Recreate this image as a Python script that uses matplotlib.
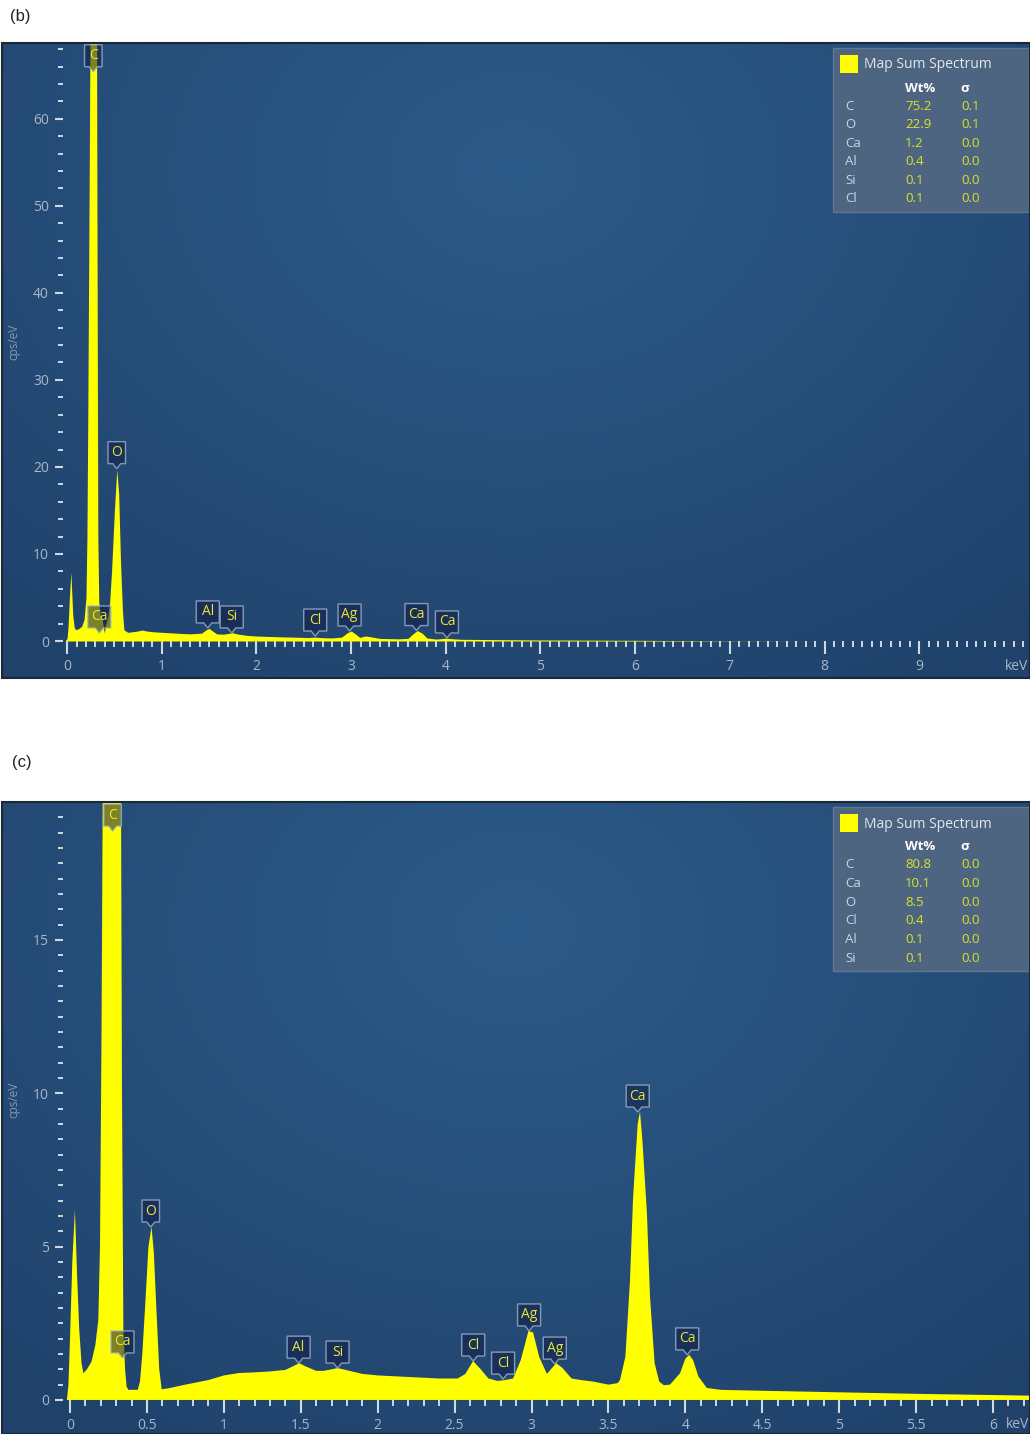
import numpy as np
import matplotlib.pyplot as plt
from matplotlib.patches import Polygon, Rectangle
from matplotlib.transforms import ScaledTranslation

plt.rcParams['font.family'] = ['Open Sans', 'DejaVu Sans']

DPI = 100

# ---- panel (b) spectrum (keV, cps/eV) ----
energy_b = [-0.02, 0.0, 0.01, 0.025, 0.04, 0.05, 0.06, 0.075, 0.09, 0.12, 0.155,
            0.18, 0.20, 0.21, 0.218, 0.235, 0.245, 0.28, 0.31, 0.318, 0.325, 0.335,
            0.35, 0.37, 0.385, 0.395, 0.405, 0.43, 0.45, 0.47, 0.50, 0.525, 0.545,
            0.565, 0.585, 0.60, 0.64, 0.68, 0.75, 0.79, 0.84, 0.92, 1.0, 1.15, 1.3,
            1.42, 1.47, 1.50, 1.53, 1.58, 1.65, 1.72, 1.75, 1.8, 1.9, 2.0, 2.2, 2.4,
            2.55, 2.62, 2.7, 2.8, 2.9, 2.96, 3.0, 3.04, 3.09, 3.15, 3.2, 3.3, 3.5,
            3.6, 3.65, 3.7, 3.75, 3.8, 3.9, 4.0, 4.05, 4.15, 4.5, 5.0, 5.5, 6.0,
            6.5, 7.0, 8.0, 10.2]
cps_b = [0.0, 0.3, 1.5, 5.0, 7.9, 5.5, 3.0, 1.6, 1.3, 1.4, 1.7,
         2.5, 5.0, 12.0, 24.0, 55.0, 75.0, 90.0, 75.0, 40.0, 12.0, 4.5,
         3.0, 2.6, 1.5, 0.9, 1.8, 2.8, 4.5, 8.0, 15.0, 19.7, 17.0,
         9.0, 3.5, 1.3, 1.0, 1.05, 1.15, 1.26, 1.15, 1.05, 1.0, 0.9, 0.82,
         0.9, 1.3, 1.45, 1.2, 0.82, 0.78, 0.9, 0.95, 0.8, 0.65, 0.57, 0.5, 0.44,
         0.4, 0.45, 0.38, 0.35, 0.45, 0.95, 1.15, 0.85, 0.42, 0.58, 0.5, 0.3, 0.25,
         0.3, 0.8, 1.2, 0.9, 0.35, 0.22, 0.33, 0.28, 0.2, 0.16, 0.12, 0.1, 0.08,
         0.05, 0.02, 0.0, 0.0]

# ---- panel (c) spectrum ----
energy_c = [-0.02, -0.01, 0.0, 0.015, 0.032, 0.045, 0.06, 0.075, 0.087, 0.11, 0.14,
            0.165, 0.184, 0.195, 0.205, 0.215, 0.24, 0.275, 0.31, 0.33, 0.338,
            0.347, 0.358, 0.368, 0.38, 0.44, 0.455, 0.47, 0.49, 0.51, 0.53, 0.545,
            0.563, 0.58, 0.596, 0.64, 0.75, 0.9, 1.0, 1.1, 1.2, 1.3, 1.4, 1.45,
            1.49, 1.53, 1.6, 1.65, 1.7, 1.74, 1.8, 1.9, 2.0, 2.2, 2.4, 2.52, 2.57,
            2.62, 2.67, 2.72, 2.78, 2.83, 2.88, 2.93, 2.98, 3.01, 3.05, 3.1, 3.16,
            3.2, 3.26, 3.32, 3.4, 3.5, 3.56, 3.575, 3.61, 3.64, 3.66, 3.69, 3.705,
            3.72, 3.75, 3.77, 3.80, 3.83, 3.86, 3.9, 3.965, 4.0, 4.025, 4.05, 4.085,
            4.14, 4.23, 4.5, 5.0, 5.5, 6.0, 6.25]
cps_c = [0.0, 0.5, 2.0, 4.5, 6.2, 4.2, 2.3, 1.2, 0.87, 1.0, 1.25,
         1.8, 2.6, 5.0, 12.0, 22.0, 40.0, 55.0, 40.0, 22.0, 10.0,
         2.3, 1.0, 0.43, 0.33, 0.33, 0.6, 1.5, 3.2, 5.0, 5.65, 4.8,
         2.8, 1.0, 0.35, 0.38, 0.5, 0.65, 0.8, 0.88, 0.9, 0.93, 0.98, 1.1,
         1.2, 1.1, 0.95, 0.95, 1.0, 1.04, 0.97, 0.85, 0.8, 0.75, 0.7, 0.7, 0.85,
         1.27, 1.0, 0.7, 0.62, 0.65, 0.7, 1.3, 2.25, 2.2, 1.4, 0.85, 1.2,
         1.05, 0.7, 0.65, 0.6, 0.5, 0.55, 0.65, 1.41, 3.9, 6.6, 9.0, 9.4,
         8.5, 6.1, 3.37, 1.2, 0.6, 0.48, 0.5, 0.87, 1.35, 1.47, 1.3, 0.76,
         0.39, 0.33, 0.3, 0.25, 0.2, 0.16, 0.14]

# ---- peak labels: element, line energy (keV), marker height (cps/eV) ----
peaks_b = ['C', 'Ca', 'O', 'Al', 'Si', 'Cl', 'Ag', 'Ca', 'Ca']
peak_e_b = [0.277, 0.341, 0.525, 1.486, 1.739, 2.621, 2.984, 3.690, 4.012]
peak_y_b = [65.4, 0.92, 19.8, 1.5, 0.92, 0.57, 1.15, 1.2, 0.35]

peaks_c = ['C', 'Ca', 'O', 'Al', 'Si', 'Cl', 'Cl', 'Ag', 'Ag', 'Ca', 'Ca']
peak_e_c = [0.277, 0.341, 0.525, 1.486, 1.739, 2.621, 2.815, 2.984, 3.151, 3.690, 4.012]
peak_y_c = [18.55, 1.37, 5.64, 1.2, 1.04, 1.27, 0.68, 2.25, 1.17, 9.39, 1.47]

# ---- quantification tables ----
elements_b = ['C', 'O', 'Ca', 'Al', 'Si', 'Cl']
wt_b = ['75.2', '22.9', '1.2', '0.4', '0.1', '0.1']
sigma_b = ['0.1', '0.1', '0.0', '0.0', '0.0', '0.0']

elements_c = ['C', 'Ca', 'O', 'Cl', 'Al', 'Si']
wt_c = ['80.8', '10.1', '8.5', '0.4', '0.1', '0.1']
sigma_c = ['0.0', '0.0', '0.0', '0.0', '0.0', '0.0']

BG_CENTER = np.array([0x2d, 0x5b, 0x89]) / 255
BG_EDGE = np.array([0x1f, 0x41, 0x6a]) / 255
SPEC_COL = '#ffff00'
TICK_COL = '#d0d8e2'
TICKLABEL_COL = '#a9b7c8'
LABEL_COL = '#e6e838'
VALUE_COL = '#dae22a'

fig = plt.figure(figsize=(10.3, 14.34), dpi=DPI)


def corner(ax):
    # offsets in inches measured from the top-left corner of the axes
    return fig.dpi_scale_trans + ScaledTranslation(0, 1, ax.transAxes)


def add_background(ax):
    yy, xx = np.mgrid[0:1:300j, 0:1:300j]
    r = np.sqrt(((xx - 0.5) / 0.8) ** 2 + ((yy - 0.8) / 1.0) ** 2)
    r = np.clip(r, 0, 1)[..., None]
    img = BG_CENTER * (1 - r) + BG_EDGE * r
    ax.imshow(img, extent=(0, 1, 0, 1), transform=ax.transAxes, origin='lower',
              aspect='auto', zorder=0, interpolation='bilinear')


def callout(ax, name, e, y):
    w = 12 + 5.5 * len(name)
    h, gap, nw = 22, 5, 4
    verts = np.array([(0, 0), (nw, gap), (w / 2, gap), (w / 2, gap + h),
                      (-w / 2, gap + h), (-w / 2, gap), (-nw, gap)]) / DPI
    trans = fig.dpi_scale_trans + ScaledTranslation(e, y, ax.transData)
    ax.add_patch(Polygon(verts, closed=True, transform=trans, zorder=4,
                         fc=(0.07, 0.11, 0.28, 0.55), ec=(0.62, 0.70, 0.80, 0.8), lw=1))
    ax.text(0, (gap + h / 2) / DPI, name, transform=trans, ha='center', va='center',
            color=LABEL_COL, fontsize=10, zorder=5, clip_on=True)


def add_table(ax, elements, wt, sigma):
    tr = corner(ax)
    ax.add_patch(Rectangle((831 / DPI, -169 / DPI), 196 / DPI, 164 / DPI, transform=tr,
                           fc='#4e6581', ec='#5f7794', lw=1, zorder=6))
    ax.add_patch(Rectangle((838 / DPI, -30 / DPI), 18 / DPI, 18 / DPI, transform=tr,
                           fc=SPEC_COL, ec='none', zorder=7))
    ax.text(862 / DPI, -22 / DPI, 'Map Sum Spectrum', transform=tr, ha='left', va='center',
            color='#e2e8ef', fontsize=10, zorder=7)
    ax.text(918 / DPI, -45 / DPI, 'Wt%', transform=tr, ha='center', va='center',
            color='#ffffff', fontsize=9.5, fontweight='bold', zorder=7)
    ax.text(963 / DPI, -45 / DPI, 'σ', transform=tr, ha='center', va='center',
            color='#ffffff', fontsize=9.5, fontweight='bold', zorder=7)
    for i, (el, w, s) in enumerate(zip(elements, wt, sigma)):
        yy = -(63 + 18.6 * i) / DPI
        ax.text(843 / DPI, yy, el, transform=tr, ha='left', va='center',
                color='#ccd5e0', fontsize=9.5, zorder=7)
        ax.text(903 / DPI, yy, w, transform=tr, ha='left', va='center',
                color=VALUE_COL, fontsize=9.5, zorder=7)
        ax.text(959 / DPI, yy, s, transform=tr, ha='left', va='center',
                color=VALUE_COL, fontsize=9.5, zorder=7)


def style_axes(ax, xlim, ylim, yaxis_x, xmaj, xmin, ymaj, ymin, kev_x):
    add_background(ax)
    ax.set_xlim(xlim)
    ax.set_ylim(ylim)
    ax.spines['bottom'].set_position(('data', 0))
    ax.spines['left'].set_position(('data', yaxis_x))
    for s in ax.spines.values():
        s.set_color('none')
    ax.add_patch(Rectangle((0, 0), 1, 1, transform=ax.transAxes, fill=False,
                           ec='#1b2836', lw=1.5, zorder=10, clip_on=False))
    ax.set_xticks(xmaj)
    ax.set_xticks(xmin, minor=True)
    ax.set_yticks(ymaj)
    ax.set_yticks(ymin, minor=True)
    ax.xaxis.set_major_formatter(lambda v, p: f'{v:g}')
    ax.yaxis.set_major_formatter(lambda v, p: f'{v:g}')
    ax.tick_params(axis='x', which='major', direction='out', length=9, width=1.5,
                   color=TICK_COL, labelcolor=TICKLABEL_COL, labelsize=10, pad=4)
    ax.tick_params(axis='x', which='minor', direction='out', length=4.5, width=1.4,
                   color=TICK_COL)
    ax.tick_params(axis='y', which='major', direction='out', length=6, width=1.5,
                   color=TICK_COL, labelcolor=TICKLABEL_COL, labelsize=10, pad=4)
    ax.tick_params(axis='y', which='minor', direction='out', length=3.5, width=1.4,
                   color=TICK_COL)
    ax.annotate('keV', xy=(kev_x, 0), xytext=(0, -25), textcoords='offset pixels',
                ha='center', va='center', color=TICKLABEL_COL, fontsize=10)
    ax.text(12 / 1028, 0.529, 'cps/eV', transform=ax.transAxes, rotation=90,
            ha='center', va='center', color='#8599b0', fontsize=8.5)


# ---- panel (b) ----
ax_b = fig.add_axes([2 / 1030, (1434 - 678) / 1434, 1028 / 1030, 635 / 1434])
ax_b.fill_between(energy_b, 0, cps_b, color=SPEC_COL, lw=0, zorder=2)
style_axes(ax_b, (-0.687, 10.17), (-4.25, 68.7), -0.045,
           np.arange(0, 10), np.arange(0, 10.2, 0.1), np.arange(0, 61, 10),
           np.arange(0, 69, 2), 10.03)
for name, e, y in zip(peaks_b, peak_e_b, peak_y_b):
    callout(ax_b, name, e, y)
add_table(ax_b, elements_b, wt_b, sigma_b)

# ---- panel (c) ----
ax_c = fig.add_axes([2 / 1030, 0, 1028 / 1030, 632 / 1434])
ax_c.fill_between(energy_c, 0, cps_c, color=SPEC_COL, lw=0, zorder=2)
style_axes(ax_c, (-0.442, 6.24), (-1.11, 19.5), -0.045,
           np.arange(0, 6.01, 0.5), np.arange(0, 6.25, 0.1), np.arange(0, 16, 5),
           np.arange(0, 19.6, 0.5), 6.16)
for name, e, y in zip(peaks_c, peak_e_c, peak_y_c):
    callout(ax_c, name, e, y)
add_table(ax_c, elements_c, wt_c, sigma_c)

fig.text(10 / 1030, 1 - 16 / 1434, '(b)', ha='left', va='center', fontsize=12,
         color='#222222', family='Liberation Sans')
fig.text(12 / 1030, 1 - 763 / 1434, '(c)', ha='left', va='center', fontsize=12,
         color='#222222', family='Liberation Sans')

fig.savefig('out.png', dpi=DPI, facecolor='white')
